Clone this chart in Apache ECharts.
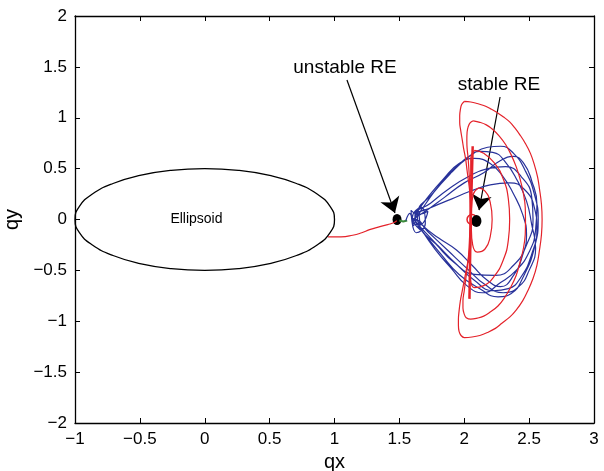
<!DOCTYPE html>
<html>
<head>
<meta charset="UTF-8">
<title>qx-qy</title>
<script src="https://cdn.jsdelivr.net/npm/echarts@6/dist/echarts.min.js"></script>
<style>
  html, body { margin: 0; padding: 0; background: #fff; }
  #main { width: 604px; height: 471px; }
</style>
</head>
<body>
<div id="main"></div>
<script>
// ellipsoid outline (qx, qy)
var ellipsePts = [
  [0, 0.5], [0.259, 0.483], [0.5, 0.433], [0.707, 0.354], [0.866, 0.25], [0.966, 0.129],
  [1, 0], [0.966, -0.129], [0.866, -0.25], [0.707, -0.354], [0.5, -0.433], [0.259, -0.483],
  [0, -0.5], [-0.259, -0.483], [-0.5, -0.433], [-0.707, -0.354], [-0.866, -0.25], [-0.966, -0.129],
  [-1, 0], [-0.966, 0.129], [-0.866, 0.25], [-0.707, 0.354], [-0.5, 0.433], [-0.259, 0.483], [0, 0.5]
];

// red path from ellipsoid to the unstable RE
var transferPath = [
  [0.95, -0.17], [1.05, -0.17], [1.14, -0.155], [1.21, -0.13], [1.27, -0.1],
  [1.35, -0.07], [1.41, -0.05], [1.46, -0.03], [1.48, -0.01]
];

// short green piece
var greenPath = [[1.5, -0.01], [1.53, -0.02], [1.56, -0.01]];

// red orbits round the stable RE
var orbit1 = [
  [2.0, 1.16], [2.05, 1.155], [2.1, 1.14], [2.15, 1.12], [2.2, 1.09], [2.25, 1.055],
  [2.3, 1.01], [2.35, 0.96], [2.39, 0.9], [2.43, 0.83], [2.47, 0.75], [2.51, 0.65],
  [2.54, 0.54], [2.565, 0.42], [2.58, 0.3], [2.595, 0.15], [2.6, 0.0], [2.595, -0.15],
  [2.58, -0.3], [2.56, -0.45], [2.53, -0.58], [2.49, -0.7], [2.45, -0.8], [2.4, -0.89],
  [2.35, -0.96], [2.29, -1.02], [2.24, -1.07], [2.18, -1.11], [2.12, -1.14], [2.06, -1.155],
  [2.0, -1.16], [1.975, -1.14], [1.96, -1.1], [1.955, -1.04], [1.955, -0.98], [1.96, -0.9],
  [1.97, -0.8], [1.985, -0.7], [2.0, -0.6], [2.015, -0.5], [2.03, -0.4], [2.04, -0.3],
  [2.045, -0.2], [2.05, 0.0], [2.045, 0.2], [2.04, 0.3], [2.03, 0.4], [2.02, 0.5],
  [2.01, 0.6], [1.995, 0.7], [1.985, 0.78], [1.972, 0.88], [1.965, 0.95], [1.965, 1.02],
  [1.97, 1.08], [1.98, 1.13], [2.0, 1.16]
];
var orbit2 = [
  [2.07, 0.97], [2.12, 0.955], [2.17, 0.93], [2.22, 0.885], [2.27, 0.82], [2.32, 0.735],
  [2.36, 0.64], [2.4, 0.52], [2.43, 0.4], [2.455, 0.26], [2.47, 0.12], [2.472, -0.02],
  [2.47, -0.15], [2.455, -0.29], [2.43, -0.42], [2.4, -0.55], [2.36, -0.66], [2.31, -0.77],
  [2.26, -0.85], [2.2, -0.91], [2.15, -0.95], [2.1, -0.97], [2.05, -0.98], [2.015, -0.965],
  [2.0, -0.93], [1.99, -0.87], [1.99, -0.8], [2.0, -0.7], [2.01, -0.6], [2.03, -0.4],
  [2.04, -0.2], [2.045, 0.0], [2.045, 0.2], [2.04, 0.4], [2.03, 0.6], [2.022, 0.7],
  [2.02, 0.78], [2.022, 0.86], [2.03, 0.91], [2.045, 0.95], [2.07, 0.97]
];
var orbit3 = [
  [2.08, 0.68], [2.15, 0.65], [2.23, 0.56], [2.3, 0.4], [2.34, 0.2], [2.35, 0.0],
  [2.34, -0.2], [2.3, -0.4], [2.23, -0.56], [2.15, -0.65], [2.08, -0.67], [2.05, -0.6],
  [2.045, -0.4], [2.05, -0.2], [2.05, 0.0], [2.05, 0.2], [2.05, 0.4], [2.05, 0.6], [2.08, 0.68]
];
var orbit4 = [
  [2.11, 0.31], [2.16, 0.28], [2.2, 0.17], [2.215, 0.0], [2.2, -0.17], [2.16, -0.29],
  [2.1, -0.32], [2.065, -0.25], [2.055, -0.1], [2.055, 0.1], [2.07, 0.25], [2.11, 0.31]
];
var redStrip = [[2.065, 0.72], [2.05, 0.0], [2.04, -0.78]];

// blue trajectory: tangle near the unstable RE, then loops
var knot = [
  [1.55, -0.01], [1.58, 0.06], [1.61, -0.06], [1.64, 0.1], [1.66, -0.1], [1.6, 0.02],
  [1.67, 0.12], [1.7, -0.04], [1.63, -0.13], [1.59, 0.09], [1.65, 0.05], [1.72, 0.08],
  [1.66, -0.05], [1.6, -0.03]
];
var loopA = [
  [1.63, 0.02], [1.7, 0.15], [1.81, 0.34], [1.94, 0.52], [2.06, 0.64], [2.18, 0.71],
  [2.28, 0.72], [2.38, 0.65], [2.47, 0.48], [2.54, 0.25], [2.57, 0.0], [2.54, -0.28],
  [2.46, -0.55], [2.36, -0.73], [2.26, -0.76], [2.12, -0.68], [1.96, -0.54], [1.82, -0.34],
  [1.7, -0.15], [1.63, -0.03]
];
var loopB = [
  [1.62, 0.04], [1.74, 0.16], [1.88, 0.3], [2.03, 0.42], [2.18, 0.5], [2.32, 0.52],
  [2.44, 0.42], [2.52, 0.22], [2.53, 0.0], [2.48, -0.25], [2.38, -0.45], [2.24, -0.55],
  [2.08, -0.54], [1.92, -0.42], [1.78, -0.24], [1.66, -0.08]
];
var loopC = [
  [1.64, 0.05], [1.76, 0.26], [1.9, 0.46], [2.02, 0.6], [2.12, 0.67], [2.22, 0.66],
  [2.32, 0.56], [2.41, 0.38], [2.48, 0.18], [2.52, -0.05], [2.55, -0.28], [2.5, -0.5],
  [2.42, -0.66], [2.3, -0.72], [2.16, -0.64], [2.02, -0.48], [1.87, -0.3], [1.72, -0.12], [1.62, 0.0]
];
var loopD = [
  [1.6, 0.0], [1.7, 0.08], [1.85, 0.22], [2.0, 0.36], [2.15, 0.46], [2.28, 0.58],
  [2.38, 0.62], [2.46, 0.55], [2.52, 0.38], [2.56, 0.15], [2.55, -0.1], [2.5, -0.32],
  [2.4, -0.5], [2.28, -0.62], [2.14, -0.72], [2.02, -0.65], [1.9, -0.48], [1.78, -0.3],
  [1.68, -0.12], [1.62, 0.02]
];
var loopE = [
  [1.63, 0.06], [1.72, 0.22], [1.84, 0.4], [1.96, 0.55], [2.08, 0.6], [2.2, 0.55],
  [2.3, 0.42], [2.38, 0.25], [2.45, 0.05], [2.48, -0.15], [2.45, -0.35], [2.38, -0.55],
  [2.28, -0.66], [2.18, -0.6], [2.06, -0.45], [1.94, -0.3], [1.8, -0.18], [1.68, -0.06]
];
var loopF = [
  [1.62, 0.03], [1.75, 0.12], [1.9, 0.2], [2.05, 0.28], [2.2, 0.34], [2.35, 0.36],
  [2.46, 0.3], [2.54, 0.12], [2.56, -0.1], [2.52, -0.34], [2.44, -0.56], [2.34, -0.68],
  [2.22, -0.7], [2.08, -0.6], [1.94, -0.44], [1.8, -0.26], [1.68, -0.1], [1.61, 0.0]
];

// relative equilibria and annotations
var unstableRE = [1.482, 0.0];
var stableRE = [2.094, -0.015];
var stableRing = [2.06, 0.0];
var arrowUnstable = [[1.096, 1.371], [1.466, 0.064]];
var arrowStable = [[2.276, 1.204], [2.114, 0.093]];
var notes = [
  { text: 'unstable RE', at: [1.081, 1.489], size: 19 },
  { text: 'stable RE', at: [2.268, 1.322], size: 19 },
  { text: 'Ellipsoid', at: [-0.064, 0.0], size: 14 }
];

var RED = '#e4222a';
var BLUE = '#28329a';
var FONT = '"Liberation Sans", Arial, Helvetica, sans-serif';

function fmt(v) {
  return v < 0 ? '\u2212' + Math.abs(v) : String(v);
}

function lineSeries(data, color, width, smooth) {
  return {
    type: 'line',
    data: data,
    showSymbol: false,
    symbol: 'none',
    smooth: smooth,
    lineStyle: { color: color, width: width },
    silent: true,
    animation: false
  };
}

var myChart = echarts.init(document.getElementById('main'));

var blueData = knot.concat(loopA, loopB, loopC, loopD, loopE, loopF, [[1.64, 0.0]]);

var series = [
  lineSeries(ellipsePts, '#000', 1.3, true),
  lineSeries(transferPath, RED, 1.2, true),
  lineSeries(greenPath, '#3c8c3c', 2, false),
  lineSeries(blueData, BLUE, 1.2, 0.5),
  lineSeries(orbit1, RED, 1.2, 0.4),
  lineSeries(orbit2, RED, 1.2, 0.4),
  lineSeries(orbit3, RED, 1.2, true),
  lineSeries(orbit4, RED, 1.2, true),
  lineSeries(redStrip, RED, 2.5, false),
  {
    type: 'lines',
    coordinateSystem: 'cartesian2d',
    symbol: ['none', 'arrow'],
    symbolSize: [11, 15],
    lineStyle: { color: '#000', width: 1.2, opacity: 1 },
    data: [{ coords: arrowUnstable }, { coords: arrowStable }],
    silent: true,
    animation: false
  },
  {
    type: 'scatter',
    data: [stableRing],
    symbol: 'circle',
    symbolSize: 10,
    itemStyle: { color: 'rgba(255,255,255,0)', borderColor: RED, borderWidth: 1.5, opacity: 1 },
    silent: true,
    animation: false
  },
  {
    type: 'scatter',
    data: [{ value: unstableRE, symbolSize: [9, 11] }, { value: stableRE, symbolSize: [10, 12] }],
    symbol: 'circle',
    itemStyle: { color: '#000', opacity: 1 },
    silent: true,
    animation: false
  },
  {
    type: 'scatter',
    symbolSize: 0,
    itemStyle: { opacity: 1 },
    data: notes.map(function (n) {
      return {
        value: n.at,
        label: {
          show: true,
          position: 'inside',
          formatter: n.text,
          fontSize: n.size,
          color: '#000',
          opacity: 1,
          textBorderWidth: 0,
          fontFamily: FONT
        }
      };
    }),
    silent: true,
    animation: false
  }
];

var tickStyle = { show: true, inside: true, length: 5, lineStyle: { color: '#000', width: 1 } };
var lineStyleAxis = { show: true, onZero: false, lineStyle: { color: '#000', width: 1.3 } };
var labelStyle = { color: '#000', fontSize: 17, fontFamily: FONT, formatter: fmt };

var option = {
  backgroundColor: '#fff',
  animation: false,
  grid: { left: 75, right: 10, top: 16, bottom: 48, show: false, outerBoundsMode: 'none', containLabel: false },
  xAxis: [{
    type: 'value', min: -1, max: 3, interval: 0.5,
    name: 'qx', nameLocation: 'middle', nameGap: 23,
    nameTextStyle: { color: '#000', fontSize: 20, fontFamily: FONT },
    axisLine: lineStyleAxis, axisTick: tickStyle,
    axisLabel: Object.assign({ margin: 8 }, labelStyle),
    splitLine: { show: false }
  }, {
    type: 'value', min: -1, max: 3, interval: 0.5, position: 'top',
    axisLine: lineStyleAxis, axisTick: tickStyle,
    axisLabel: { show: false }, splitLine: { show: false }
  }],
  yAxis: [{
    type: 'value', min: -2, max: 2, interval: 0.5,
    name: 'qy', nameLocation: 'middle', nameGap: 45, nameRotate: 90,
    nameTextStyle: { color: '#000', fontSize: 20, fontFamily: FONT },
    axisLine: lineStyleAxis, axisTick: tickStyle,
    axisLabel: Object.assign({ margin: 8 }, labelStyle),
    splitLine: { show: false }
  }, {
    type: 'value', min: -2, max: 2, interval: 0.5, position: 'right',
    axisLine: lineStyleAxis, axisTick: tickStyle,
    axisLabel: { show: false }, splitLine: { show: false }
  }],
  series: series
};

myChart.setOption(option);
</script>
</body>
</html>
